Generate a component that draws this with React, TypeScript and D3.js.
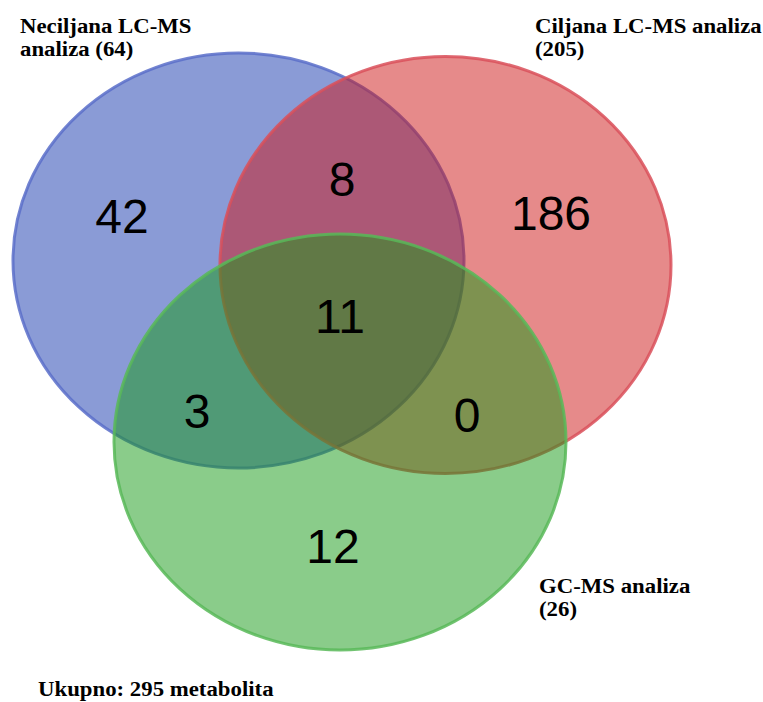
import React from "react";
import * as d3 from "d3";

const setNames = ["Neciljana LC-MS analiza", "Ciljana LC-MS analiza", "GC-MS analiza"];
const setSizes = [64, 205, 26];
const setColors = ["#1537ad", "#cd1515", "#159915"];
const strokeColors = ["#5a6fc9", "#d9505a", "#58b858"];
const regionKeys = ["A", "B", "C", "AB", "AC", "BC", "ABC"];
const regionCounts = [42, 186, 12, 8, 3, 0, 11];
const totalLabel = "Ukupno: 295 metabolita";

const W = 763;
const H = 702;

// ellipse geometry for the three sets
const ellipses = [
  { cx: 238.5, cy: 260.5, rx: 225.5, ry: 207.5 },
  { cx: 445.5, cy: 265, rx: 225.5, ry: 208.5 },
  { cx: 340, cy: 442, rx: 226, ry: 208 },
];

const regionPos: Record<string, [number, number]> = {
  A: [122, 233],
  B: [551, 230],
  C: [333, 563],
  AB: [342, 196],
  AC: [197, 428],
  BC: [467, 432],
  ABC: [340, 333],
};

const labelLayout = [
  { x: 20, y: 33, lines: ["Neciljana LC-MS", "analiza"] },
  { x: 535, y: 33, lines: ["Ciljana LC-MS analiza", ""] },
  { x: 539, y: 593, lines: ["GC-MS analiza", ""] },
];

export default function App() {
  const color = d3.scaleOrdinal<string, string>().domain(setNames).range(setColors);
  const stroke = d3.scaleOrdinal<string, string>().domain(setNames).range(strokeColors);
  const sx = 1.14;

  return (
    <svg
      width={W}
      height={H}
      viewBox={`0 0 ${W} ${H}`}
      style={{ position: "absolute", left: 0, top: 0, background: "#fff" }}
    >
      <rect width={W} height={H} fill="#fff" />
      {setNames.map((n, i) => (
        <ellipse
          key={n}
          cx={ellipses[i].cx}
          cy={ellipses[i].cy}
          rx={ellipses[i].rx}
          ry={ellipses[i].ry}
          fill={color(n)}
          fillOpacity={0.5}
          stroke={stroke(n)}
          strokeWidth={3}
          strokeOpacity={0.85}
        />
      ))}
      {regionKeys.map((k, i) => (
        <text
          key={k}
          x={regionPos[k][0]}
          y={regionPos[k][1]}
          textAnchor="middle"
          fontFamily="'Liberation Sans', Arial, sans-serif"
          fontSize={48}
          fill="#000"
        >
          {d3.format("d")(regionCounts[i])}
        </text>
      ))}
      {setNames.map((n, i) => {
        const L = labelLayout[i];
        const line1 = L.lines[0];
        const rest = n.slice(line1.length).trim();
        const line2 = (rest ? rest + " " : "") + `(${setSizes[i]})`;
        return (
          <g key={n} transform={`translate(${L.x},${L.y}) scale(${sx},1)`}>
            <text
              fontFamily="'Liberation Serif', 'Times New Roman', serif"
              fontWeight="bold"
              fontSize={20}
              fill="#000"
            >
              <tspan x={0} y={0}>{line1}</tspan>
              <tspan x={0} y={23}>{line2}</tspan>
            </text>
          </g>
        );
      })}
      <g transform={`translate(38,696) scale(${sx},1)`}>
        <text
          fontFamily="'Liberation Serif', 'Times New Roman', serif"
          fontWeight="bold"
          fontSize={20}
          fill="#000"
        >
          {totalLabel}
        </text>
      </g>
    </svg>
  );
}
